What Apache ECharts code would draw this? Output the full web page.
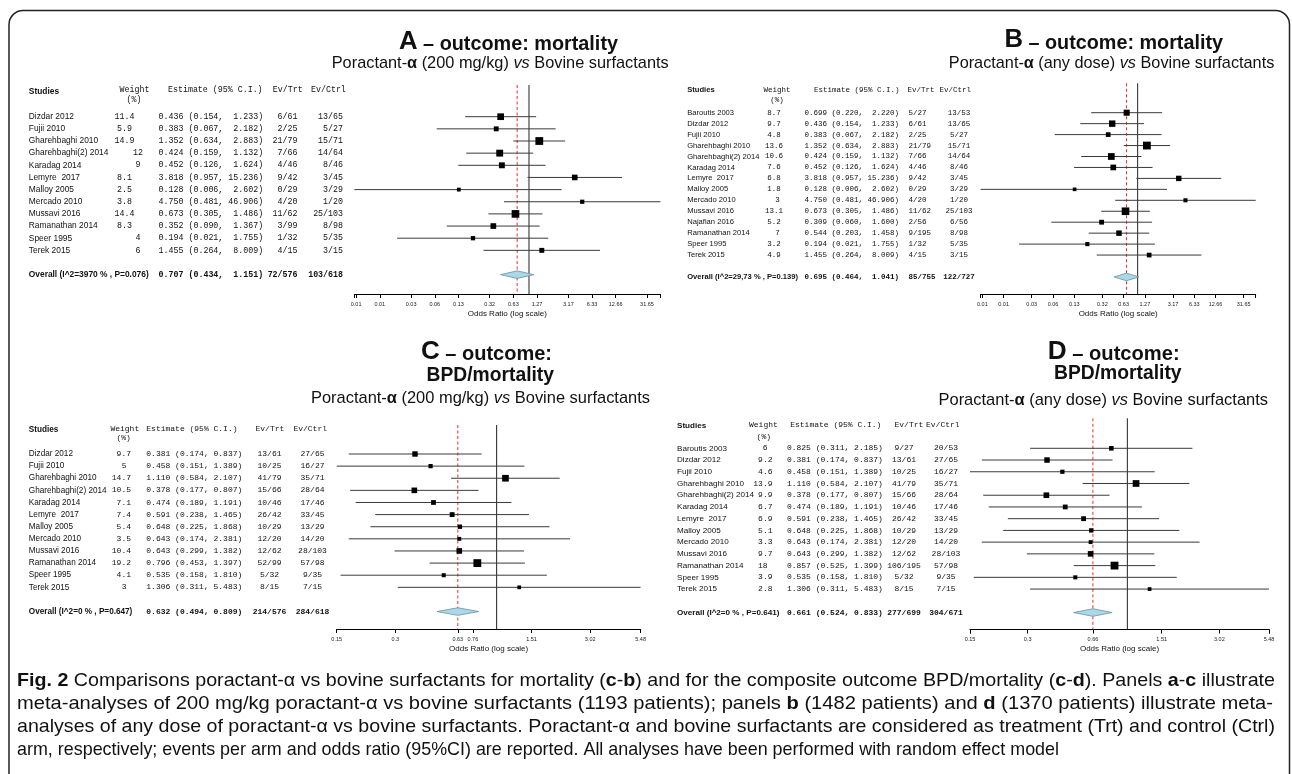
<!DOCTYPE html>
<html><head><meta charset="utf-8">
<script src="https://cdn.jsdelivr.net/npm/echarts@6/dist/echarts.min.js"></script>
<style>html,body{margin:0;padding:0;background:#fff}#c{width:1292px;height:774px}</style>
</head><body><div id="c"></div>
<script>
// ---------------- DATA ----------------
// Panel A: mortality, Poractant-α 200 mg/kg vs bovine
const studiesA = ["Dizdar 2012","Fujii 2010","Gharehbaghi 2010","Gharehbaghi(2) 2014","Karadag 2014","Lemyre  2017","Malloy 2005","Mercado 2010","Mussavi 2016","Ramanathan 2014","Speer 1995","Terek 2015"];
const weightA = [11.4, 5.9, 14.9, 12, 9, 8.1, 2.5, 3.8, 14.4, 8.3, 4, 6];
const estA = [0.436, 0.383, 1.352, 0.424, 0.452, 3.818, 0.128, 4.750, 0.673, 0.352, 0.194, 1.455];
const loA  = [0.154, 0.067, 0.634, 0.159, 0.126, 0.957, 0.006, 0.481, 0.305, 0.090, 0.021, 0.264];
const hiA  = [1.233, 2.182, 2.883, 1.132, 1.624, 15.236, 2.602, 46.906, 1.486, 1.367, 1.755, 8.009];
const evTrtA  = ["6/61","2/25","21/79","7/66","4/46","9/42","0/29","4/20","11/62","3/99","1/32","4/15"];
const evCtrlA = ["13/65","5/27","15/71","14/64","8/46","3/45","3/29","1/20","25/103","8/98","5/35","3/15"];
const overallA = [0.707, 0.434, 1.151];
const overallLabelA = "Overall (I^2=3970 % , P=0.076)";
const overallEvA = ["72/576", "103/618"];

// Panel B: mortality, Poractant-α any dose vs bovine
const studiesB = ["Baroutis 2003","Dizdar 2012","Fujii 2010","Gharehbaghi 2010","Gharehbaghi(2) 2014","Karadag 2014","Lemyre  2017","Malloy 2005","Mercado 2010","Mussavi 2016","Najafian 2016","Ramanathan 2014","Speer 1995","Terek 2015"];
const weightB = [8.7, 9.7, 4.8, 13.6, 10.6, 7.6, 6.8, 1.8, 3, 13.1, 5.2, 7, 3.2, 4.9];
const estB = [0.699, 0.436, 0.383, 1.352, 0.424, 0.452, 3.818, 0.128, 4.750, 0.673, 0.309, 0.544, 0.194, 1.455];
const loB  = [0.220, 0.154, 0.067, 0.634, 0.159, 0.126, 0.957, 0.006, 0.481, 0.305, 0.060, 0.203, 0.021, 0.264];
const hiB  = [2.220, 1.233, 2.182, 2.883, 1.132, 1.624, 15.236, 2.602, 46.906, 1.486, 1.600, 1.458, 1.755, 8.009];
const evTrtB  = ["5/27","6/61","2/25","21/79","7/66","4/46","9/42","0/29","4/20","11/62","2/56","9/195","1/32","4/15"];
const evCtrlB = ["13/53","13/65","5/27","15/71","14/64","8/46","3/45","3/29","1/20","25/103","6/56","8/98","5/35","3/15"];
const overallB = [0.695, 0.464, 1.041];
const overallLabelB = "Overall (I^2=29,73 % , P=0.139)";
const overallEvB = ["85/755", "122/727"];

// Panel C: BPD/mortality, Poractant-α 200 mg/kg vs bovine
const studiesC = ["Dizdar 2012","Fujii 2010","Gharehbaghi 2010","Gharehbaghi(2) 2014","Karadag 2014","Lemyre  2017","Malloy 2005","Mercado 2010","Mussavi 2016","Ramanathan 2014","Speer 1995","Terek 2015"];
const weightC = [9.7, 5, 14.7, 10.5, 7.1, 7.4, 5.4, 3.5, 10.4, 19.2, 4.1, 3];
const estC = [0.381, 0.458, 1.110, 0.378, 0.474, 0.591, 0.648, 0.643, 0.643, 0.796, 0.535, 1.306];
const loC  = [0.174, 0.151, 0.584, 0.177, 0.189, 0.238, 0.225, 0.174, 0.299, 0.453, 0.158, 0.311];
const hiC  = [0.837, 1.389, 2.107, 0.807, 1.191, 1.465, 1.868, 2.381, 1.382, 1.397, 1.810, 5.483];
const evTrtC  = ["13/61","10/25","41/79","15/66","10/46","26/42","10/29","12/20","12/62","52/99","5/32","8/15"];
const evCtrlC = ["27/65","16/27","35/71","28/64","17/46","33/45","13/29","14/20","28/103","57/98","9/35","7/15"];
const overallC = [0.632, 0.494, 0.809];
const overallLabelC = "Overall (I^2=0 % , P=0.647)";
const overallEvC = ["214/576", "284/618"];

// Panel D: BPD/mortality, Poractant-α any dose vs bovine
const studiesD = ["Baroutis 2003","Dizdar 2012","Fujii 2010","Gharehbaghi 2010","Gharehbaghi(2) 2014","Karadag 2014","Lemyre  2017","Malloy 2005","Mercado 2010","Mussavi 2016","Ramanathan 2014","Speer 1995","Terek 2015"];
const weightD = [6, 9.2, 4.6, 13.9, 9.9, 6.7, 6.9, 5.1, 3.3, 9.7, 18, 3.9, 2.8];
const estD = [0.825, 0.381, 0.458, 1.110, 0.378, 0.474, 0.591, 0.648, 0.643, 0.643, 0.857, 0.535, 1.306];
const loD  = [0.311, 0.174, 0.151, 0.584, 0.177, 0.189, 0.238, 0.225, 0.174, 0.299, 0.525, 0.158, 0.311];
const hiD  = [2.185, 0.837, 1.389, 2.107, 0.807, 1.191, 1.465, 1.868, 2.381, 1.382, 1.399, 1.810, 5.483];
const evTrtD  = ["9/27","13/61","10/25","41/79","15/66","10/46","26/42","10/29","12/20","12/62","106/195","5/32","8/15"];
const evCtrlD = ["20/53","27/65","16/27","35/71","28/64","17/46","33/45","13/29","14/20","28/103","57/98","9/35","7/15"];
const overallD = [0.661, 0.524, 0.833];
const overallLabelD = "Overall (I^2=0 % , P=0.641)";
const overallEvD = ["277/699", "304/671"];

// Axis ticks (odds ratio, log scale)
const ticksAB = [0.00633, 0.01266, 0.03165, 0.0633, 0.1266, 0.3165, 0.633, 1.266, 3.165, 6.33, 12.66, 31.65];
const tickLabelsAB = ["0.01","0.01","0.03","0.06","0.13","0.32","0.63","1.27","3.17","6.33","12.66","31.65"];
const ticksC = [0.151, 0.302, 0.632, 0.755, 1.51, 3.02, 5.483];
const tickLabelsC = ["0.15","0.3","0.63","0.76","1.51","3.02","5.48"];
const ticksD = [0.151, 0.302, 0.661, 1.51, 3.02, 5.483];
const tickLabelsD = ["0.15","0.3","0.66","1.51","3.02","5.48"];

// ---------------- STYLE / LAYOUT ----------------
const SANS = "'Liberation Sans', Arial, Helvetica, sans-serif";
const MONO = "'Liberation Mono', 'Courier New', monospace";
const INK = '#111';
const LOG = Math.log10;

const LAYOUT = {
  A: {x0:354.3, x1:660.4, top:85, axisY:294, row0:116.7, pitch:12.15, nameX:28.8, nameSize:8.4, mono:8.3,
      wAlign:'center', wX:124.5, wIntDx:13.5, estX:158.6, trtAlign:'right', trtX:297.5, ctrlAlign:'right', ctrlX:343,
      head:{studies:[28.8,91.7], weight:[119.5,90], pct:[134,100], est:[168,90], trt:[272.8,90], ctrl:[311,90]}},
  B: {x0:980.7, x1:1255.7, top:83.3, axisY:294, row0:112.7, pitch:10.95, nameX:687.2, nameSize:7.6, mono:7.5,
      wAlign:'center', wX:774, wIntDx:3.5, estX:804.6, trtAlign:'left', trtX:908.5, ctrlAlign:'center', ctrlX:959,
      head:{studies:[687.2,90], weight:[763.4,90], pct:[777,100], est:[814,90], trt:[907.6,90], ctrl:[939.4,90]}},
  C: {x0:336.7, x1:640.6, top:425, axisY:629, row0:454, pitch:12.12, nameX:28.8, nameSize:8.2, mono:8,
      wAlign:'right', wX:131, wIntDx:-4.5, estX:146.3, trtAlign:'center', trtX:269.5, ctrlAlign:'center', ctrlX:312.5,
      head:{studies:[28.8,430], weight:[110.4,429], pct:[123.6,438.3], est:[146.3,429], trt:[255.5,429], ctrl:[293.4,429]}},
  D: {x0:970, x1:1269, top:418.3, axisY:629.5, row0:448.3, pitch:11.73, nameX:677, nameSize:8.1, mono:8,
      wAlign:'right', wX:772.5, wIntDx:-5, estX:786.9, trtAlign:'center', trtX:904, ctrlAlign:'center', ctrlX:946,
      head:{studies:[677,426], weight:[749,425], pct:[763.8,437.3], est:[790.2,425], trt:[894.5,425], ctrl:[926,425]}}
};

const PANELS = {
  A: {studies:studiesA, weight:weightA, est:estA, lo:loA, hi:hiA, trt:evTrtA, ctrl:evCtrlA, ov:overallA, ovLabel:overallLabelA, ovEv:overallEvA, ticks:ticksAB, tickLabels:tickLabelsAB},
  B: {studies:studiesB, weight:weightB, est:estB, lo:loB, hi:hiB, trt:evTrtB, ctrl:evCtrlB, ov:overallB, ovLabel:overallLabelB, ovEv:overallEvB, ticks:ticksAB, tickLabels:tickLabelsAB},
  C: {studies:studiesC, weight:weightC, est:estC, lo:loC, hi:hiC, trt:evTrtC, ctrl:evCtrlC, ov:overallC, ovLabel:overallLabelC, ovEv:overallEvC, ticks:ticksC, tickLabels:tickLabelsC},
  D: {studies:studiesD, weight:weightD, est:estD, lo:loD, hi:hiD, trt:evTrtD, ctrl:evCtrlD, ov:overallD, ovLabel:overallLabelD, ovEv:overallEvD, ticks:ticksD, tickLabels:tickLabelsD}
};

// ---------------- HELPERS ----------------
const mctx = document.createElement('canvas').getContext('2d');
function fontStr(s){ return (s.italic?'italic ':'') + (s.bold?'bold ':'') + s.size + 'px ' + SANS; }
function measure(segs){ let w=0; segs.forEach(s=>{ mctx.font = fontStr(s); w += mctx.measureText(s.t).width; }); return w; }
function fitText(segs, left, cy, target){
  const rich = {}; let str = '';
  segs.forEach((s,k)=>{
    rich['s'+k] = {fontSize:s.size, fontWeight:s.bold?'bold':'normal', fontStyle:s.italic?'italic':'normal',
                   fontFamily:SANS, fill:INK, lineHeight:s.size, verticalAlign:'bottom'};
    str += '{s'+k+'|' + s.t + '}';
  });
  const w = measure(segs);
  return {type:'text', x:left, y:cy, scaleX: target/w, silent:true,
          style:{text:str, rich:rich, align:'left', verticalAlign:'middle', fill:INK}};
}
function txt(x, y, s, font, align, fill){
  return {type:'text', x:x, y:y, silent:true, style:{text:s, font:font, fill:fill||INK, align:align||'left', verticalAlign:'middle'}};
}
const f3 = v => v.toFixed(3);

function buildPanel(idx, key){
  const D = PANELS[key], L = LAYOUT[key];
  const n = D.studies.length;
  const minLo = Math.min(...D.lo), maxHi = Math.max(...D.hi);
  const wmax = Math.max(...D.weight);
  const yMin = (L.top - L.row0)/L.pitch, yMax = (L.axisY - L.row0)/L.pitch;
  const hw = Math.max(...D.hi.map(v=>f3(v).length));
  const estStr = (e,l,h)=> f3(e) + ' (' + f3(l) + ', ' + f3(h).padStart(hw) + ')';
  const nameFont = L.nameSize + 'px ' + SANS, nameBold = 'bold ' + L.nameSize + 'px ' + SANS;
  const monoFont = L.mono + 'px ' + MONO, monoBold = 'bold ' + L.mono + 'px ' + MONO;
  const tickV = D.ticks.map(LOG);

  const grid = {left:L.x0, width:L.x1-L.x0, top:L.top, height:L.axisY-L.top, containLabel:false};
  const xAxis = {gridIndex:idx, type:'value', min:LOG(minLo), max:LOG(maxHi), position:'bottom',
    axisLine:{show:true, onZero:false, lineStyle:{color:'#000', width:1}},
    axisTick:{show:true, length:4, customValues:[LOG(minLo)].concat(tickV, [LOG(maxHi)]), lineStyle:{color:'#000', width:1}},
    axisLabel:{show:true, customValues:tickV, margin:7, fontSize:5.5, fontFamily:SANS, color:'#222',
      formatter:(v)=>{ let b=0; tickV.forEach((t,i)=>{ if(Math.abs(t-v)<Math.abs(tickV[b]-v)) b=i; }); return D.tickLabels[b]; }},
    splitLine:{show:false},
    name:'Odds Ratio (log scale)', nameLocation:'middle', nameGap:15.5,
    nameTextStyle:{fontSize:8, fontFamily:SANS, color:INK}};
  const yAxis = {gridIndex:idx, type:'value', inverse:true, min:yMin, max:yMax, show:false};

  const refSeries = {type:'custom', xAxisIndex:idx, yAxisIndex:idx, z:1, clip:false, silent:true,
    data:[[0, 0], [LOG(D.ov[0]), 1]], encode:{x:0, y:1},
    renderItem:(params, api)=>{
      const x = api.value(0);
      const p1 = api.coord([x, yMin]), p2 = api.coord([x, yMax]);
      const red = params.dataIndex === 1;
      return {type:'line', shape:{x1:p1[0], y1:p1[1], x2:p2[0], y2:p2[1]},
        style:{stroke: red ? '#ee2b2b' : '#222', lineWidth:1, lineDash: red ? [3,2.5] : null}};
    }};

  const studySeries = {type:'custom', xAxisIndex:idx, yAxisIndex:idx, z:2, clip:false, silent:true,
    data: D.studies.map((s,i)=>[i, LOG(D.est[i]), LOG(D.lo[i]), LOG(D.hi[i]), D.weight[i]]),
    encode:{x:[1,2,3], y:0},
    renderItem:(params, api)=>{
      const i = params.dataIndex, row = api.value(0);
      const pE = api.coord([api.value(1), row]), pL = api.coord([api.value(2), row]), pH = api.coord([api.value(3), row]);
      const y = pE[1];
      const w = api.value(4);
      const s = 3 + 4.8 * w / wmax;
      const wInt = Number.isInteger(w);
      return {type:'group', children:[
        {type:'line', shape:{x1:pL[0], y1:y, x2:pH[0], y2:y}, style:{stroke:'#3a3a3a', lineWidth:1}},
        {type:'rect', shape:{x:pE[0]-s/2, y:y-s/2, width:s, height:s}, style:{fill:'#000'}},
        txt(L.nameX, y, D.studies[i], nameFont, 'left'),
        txt(L.wX + (wInt ? L.wIntDx : 0), y, String(w), monoFont, L.wAlign),
        txt(L.estX, y, estStr(D.est[i], D.lo[i], D.hi[i]), monoFont, 'left'),
        txt(L.trtX, y, D.trt[i], monoFont, L.trtAlign),
        txt(L.ctrlX, y, D.ctrl[i], monoFont, L.ctrlAlign)
      ]};
    }};

  const overallSeries = {type:'custom', xAxisIndex:idx, yAxisIndex:idx, z:3, clip:false, silent:true,
    data:[[n+1, LOG(D.ov[0]), LOG(D.ov[1]), LOG(D.ov[2])]],
    encode:{x:[1,2,3], y:0},
    renderItem:(params, api)=>{
      const row = api.value(0);
      const pE = api.coord([api.value(1), row]), pL = api.coord([api.value(2), row]), pH = api.coord([api.value(3), row]);
      const y = pE[1], h = 3.8;
      return {type:'group', children:[
        {type:'polygon', shape:{points:[[pL[0], y], [pE[0], y-h], [pH[0], y], [pE[0], y+h]]},
          style:{fill:'#a9d8e8', stroke:'#6d8e9c', lineWidth:0.8}},
        txt(L.nameX, y, D.ovLabel, nameBold, 'left'),
        txt(L.estX, y, estStr(D.ov[0], D.ov[1], D.ov[2]), monoBold, 'left'),
        txt(L.trtX, y, D.ovEv[0], monoBold, L.trtAlign),
        txt(L.ctrlX, y, D.ovEv[1], monoBold, L.ctrlAlign)
      ]};
    }};

  const H = L.head;
  const heads = [
    txt(H.studies[0], H.studies[1], 'Studies', nameBold, 'left'),
    txt(H.weight[0], H.weight[1], 'Weight', monoFont, 'left'),
    txt(H.pct[0], H.pct[1], '(%)', monoFont, 'center'),
    txt(H.est[0], H.est[1], 'Estimate (95% C.I.)', monoFont, 'left'),
    txt(H.trt[0], H.trt[1], 'Ev/Trt', monoFont, 'left'),
    txt(H.ctrl[0], H.ctrl[1], 'Ev/Ctrl', monoFont, 'left')
  ];
  return {grid, xAxis, yAxis, series:[refSeries, studySeries, overallSeries], heads};
}

// ---------------- TITLES & CAPTION ----------------
const T = (t, size, bold, italic) => ({t, size, bold:!!bold, italic:!!italic});
const subSegs = (dose) => [T('Poractant-',17), T('α',17,true), T(' (' + dose + ') ',17), T('vs',17,false,true), T(' Bovine surfactants',17)];
const titles = [
  fitText([T('A',26,true), T(' – outcome: mortality',20,true)], 399, 41.7, 219),
  fitText(subSegs('200 mg/kg'), 331.7, 63.3, 337),
  fitText([T('B',26,true), T(' – outcome: mortality',20,true)], 1004.5, 40, 218.5),
  fitText(subSegs('any dose'), 948.8, 63.3, 325.5),
  fitText([T('C',26,true), T(' – outcome:',20,true)], 421, 351.7, 131),
  fitText([T('BPD/mortality',20,true)], 426.5, 375, 127.5),
  fitText(subSegs('200 mg/kg'), 311, 398.3, 339),
  fitText([T('D',26,true), T(' – outcome:',20,true)], 1047.7, 351.7, 132),
  fitText([T('BPD/mortality',20,true)], 1054, 373.3, 127.6),
  fitText(subSegs('any dose'), 938.5, 400, 329.5)
];
const CS = 18.5;
const caption = [
  fitText([T('Fig. 2',CS,true), T(' Comparisons poractant-α vs bovine surfactants for mortality (',CS), T('c',CS,true), T('-',CS), T('b',CS,true),
           T(') and for the composite outcome BPD/mortality (',CS), T('c',CS,true), T('-',CS), T('d',CS,true), T('). Panels ',CS),
           T('a',CS,true), T('-',CS), T('c',CS,true), T(' illustrate',CS)], 17, 681.5, 1258),
  fitText([T('meta-analyses of 200 mg/kg poractant-α vs bovine surfactants (1193 patients); panels ',CS), T('b',CS,true),
           T(' (1482 patients) and ',CS), T('d',CS,true), T(' (1370 patients) illustrate meta-',CS)], 17, 704.5, 1256),
  fitText([T('analyses of any dose of poractant-α vs bovine surfactants. Poractant-α and bovine surfactants are considered as treatment (Trt) and control (Ctrl)',CS)], 17, 727.5, 1258),
  fitText([T('arm, respectively; events per arm and odds ratio (95%CI) are reported. All analyses have been performed with random effect model',CS)], 17, 750.5, 1042)
];

// ---------------- ASSEMBLE ----------------
const parts = ['A','B','C','D'].map((k,i)=>buildPanel(i,k));
const option = {
  animation:false,
  backgroundColor:'#fff',
  grid: parts.map(p=>p.grid),
  xAxis: parts.map(p=>p.xAxis),
  yAxis: parts.map(p=>p.yAxis),
  series: [].concat(...parts.map(p=>p.series)),
  graphic: {elements: [
    {type:'rect', silent:true, z:-10, shape:{x:9, y:10.5, width:1280.5, height:820, r:14}, style:{fill:'none', stroke:'#222', lineWidth:1.5}}
  ].concat(titles, caption, ...parts.map(p=>p.heads))}
};
const chart = echarts.init(document.getElementById('c'), null, {renderer:'canvas'});
chart.setOption(option);
</script>
</body></html>
